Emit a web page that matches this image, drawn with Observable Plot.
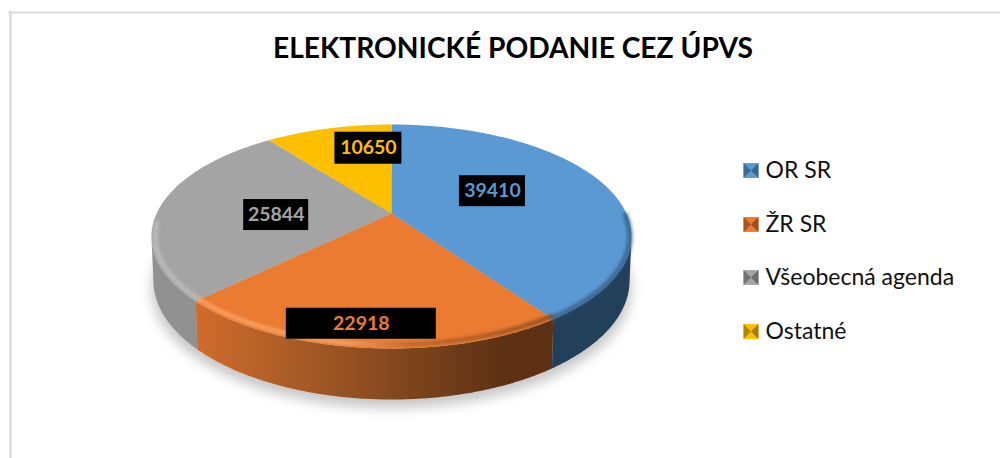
<!DOCTYPE html>
<html><head><meta charset="utf-8">
<script src="https://cdn.jsdelivr.net/npm/d3@7"></script>
<script src="https://cdn.jsdelivr.net/npm/@observablehq/plot@0.6"></script>
<style>html,body{margin:0;padding:0;background:#fff}svg{display:block}</style>
</head><body><div id="chart"></div>
<script>
const title = "ELEKTRONICKÉ PODANIE CEZ ÚPVS";
const categories = ["OR SR", "ŽR SR", "Všeobecná agenda", "Ostatné"];
const values = [39410, 22918, 25844, 10650];
const colors = ["#5b99d4", "#eb7b31", "#a4a4a4", "#fdbf00"];

// ---- layout (not data) ----
const W = 1000, H = 458, FONT = "Lato, Carlito, sans-serif";
const skew = -0.205;                // perspective shift of the apex
const warp = 0.027;                 // foreshortening of the pie angle
const bottom = {rx: 0.992, cy: 0.393, ry: 1.0625}; // lower rim ellipse in unit space
const pxX = 240, pxY = 112;         // pixels per unit of the x and y scale
const sideStops = [
  [[0, "#23405b"], [1, "#23405b"]],
  [[0, "#d06c2b"], [0.3, "#a65a26"], [0.6, "#7d441c"], [0.85, "#5e3114"], [1, "#5c3013"]],
  [[0, "#919191"], [1, "#919191"]],
  [[0, "#c09000"], [1, "#c09000"]]
];
const bevelStops = [
  [[0, "#2c4f72"], [1, "#2c4f72"]],
  [[0, "#f9a468"], [0.42, "#f9a468"], [0.6, "#b8642a"], [1, "#8a4a1e"]],
  [[0, "#bcbcbc"], [1, "#bcbcbc"]],
  [[0, "#fdbf00"], [1, "#fdbf00"]]
];
const labelPlace = [ // box size in px, fractional radius in the pie, px nudge
  {r: .45, w: 66, h: 31, dx: 4, dy: -7},
  {r: .8,  w: 150, h: 31, dx: -10.5, dy: 8},
  {r: .62, w: 65, h: 31, dx: 28.5, dy: 6.5},
  {r: .62, w: 67, h: 32, dx: 18, dy: -9}
];
const legendRows = [170, 224, 277, 331];

// ---- geometry derived from the values ----
const slices = d3.pie().sort(null)(values);
function project(angle0, r = 1) {
  const angle = angle0 - warp * Math.sin(2 * angle0);
  const u = r * Math.sin(angle), v = -r * Math.cos(angle);
  const d = 1 + skew * v;
  return {x: u * Math.sqrt(1 - skew * skew) / d, y: (v + skew) / d};
}
const arcPts = (s, r = 1) => {
  const n = Math.max(2, Math.ceil((s.endAngle - s.startAngle) * 90));
  return d3.range(n + 1).map(i => project(s.startAngle + (s.endAngle - s.startAngle) * i / n, r));
};
const toBottom = p => ({x: p.x * bottom.rx, y: bottom.cy + p.y * bottom.ry});
const apex = project(0, 0);
const wedge = s => [apex, ...arcPts(s), apex];
const side = s => {
  const a = arcPts(s).filter(p => p.y >= 0);
  return a.length ? [...a, ...a.slice().reverse().map(toBottom), a[0]] : [];
};
const outline = d3.range(0, 361, 2).map(d => project(d * Math.PI / 180));
const shadow = outline.map(p => ({x: p.x * 1.0, y: bottom.cy + 0.075 + p.y * bottom.ry}));

function defs() {
  const NS = "http://www.w3.org/2000/svg";
  const el = document.createElementNS(NS, "defs");
  const add = (id, stops) => {
    const g = document.createElementNS(NS, "linearGradient");
    g.setAttribute("id", id);
    g.setAttribute("gradientUnits", "userSpaceOnUse");
    g.setAttribute("x1", 195); g.setAttribute("x2", 555);
    g.setAttribute("y1", 0); g.setAttribute("y2", 0);
    for (const [o, c] of stops) {
      const st = document.createElementNS(NS, "stop");
      st.setAttribute("offset", o); st.setAttribute("stop-color", c);
      g.appendChild(st);
    }
    el.appendChild(g);
  };
  sideStops.forEach((s, i) => add("side" + i, s));
  bevelStops.forEach((s, i) => add("bevel" + i, s));
  return el;
}

const poly = (pts, opt) => Plot.line(pts, {x: "x", y: "y", curve: "linear", ...opt});
const rimFrom = [-0.2, 0, -0.12, 2];
const rimInset = [[0.993, 0.012], [0.985, 0.035], [0.985, 0.035]];
const inner = (s, i) => arcPts(s).filter(p => p.y >= rimFrom[i]).map(p => ({x: p.x * rimInset[i][0], y: p.y - rimInset[i][1] * Math.max(p.y, 0)}));

const marks = [
  defs,
  Plot.frame({anchor: "top", insetTop: 12, insetLeft: 9, stroke: "#d9d9d9", strokeWidth: 2.2}),
  Plot.frame({anchor: "left", insetTop: 11, insetLeft: 10, stroke: "#d9d9d9", strokeWidth: 2.2}),
  Plot.text([title], {frameAnchor: "top", dy: 37, dx: 12.5, text: d => d, fontFamily: FONT, fontWeight: 700, fontSize: 28.2, fill: "#000", lineAnchor: "top"}),
  poly(shadow, {fill: "#000", fillOpacity: 0.22, stroke: "none", imageFilter: "blur(6px)"})
];
[0, 2, 1].forEach(i => marks.push(poly(side(slices[i]), {fill: `url(#side${i})`, stroke: "none"})));
slices.forEach((s, i) => marks.push(poly(wedge(s), {fill: colors[i], stroke: "none"})));
[0, 2, 1].forEach(i => {
  marks.push(poly(inner(slices[i], i), {stroke: `url(#bevel${i})`, strokeWidth: i === 0 ? 6 : i === 1 ? 4.5 : 5, strokeOpacity: i === 0 ? 0.6 : 0.85, imageFilter: "blur(1.8px)"}));
});
slices.forEach((s, i) => {
  const pl = labelPlace[i];
  const c = project((s.startAngle + s.endAngle) / 2, pl.r);
  const cx = c.x + pl.dx / pxX, cy = c.y + pl.dy / pxY;
  marks.push(Plot.rect([{}], {x1: cx - pl.w / 2 / pxX, x2: cx + pl.w / 2 / pxX, y1: cy - pl.h / 2 / pxY, y2: cy + pl.h / 2 / pxY, fill: "#000"}));
  marks.push(Plot.text([values[i]], {x: () => cx, y: () => cy, text: d => String(d), fill: colors[i], fontFamily: FONT, fontWeight: 700, fontSize: 19.5}));
});
const triangle = k => ({draw(ctx, size) {
  const r = Math.sqrt(size) / 2;
  const pts = [[[-r,-r],[r,-r]], [[r,-r],[r,r]], [[r,r],[-r,r]], [[-r,r],[-r,-r]]][k];
  ctx.moveTo(0, 0); ctx.lineTo(...pts[0]); ctx.lineTo(...pts[1]); ctx.closePath();
}});
const shade = (c, k) => d3.rgb(c).darker(k).formatHex();
categories.forEach((name, i) => {
  const pos = {frameAnchor: "top-left", dx: 750.5, dy: legendRows[i], r: 8.4};
  marks.push(Plot.dot([{}], {...pos, symbol: "square", fill: colors[i], stroke: "none"}));
  [1, 3].forEach(k => marks.push(Plot.dot([{}], {...pos, symbol: triangle(k), fill: shade(colors[i], k === 1 ? 1.2 : 1.0), stroke: "none"})));
  marks.push(Plot.text([name], {frameAnchor: "top-left", dx: 765, dy: legendRows[i], text: d => d, textAnchor: "start", fontFamily: FONT, fontSize: 23, fill: "#111", lineAnchor: "middle"}));
});

const chart = Plot.plot({
  width: W, height: H, margin: 0,
  style: {background: "#fff", overflow: "hidden"},
  x: {domain: [-1, 1], range: [151, 631], axis: null},
  y: {domain: [-1, 1], range: [124, 348], axis: null},
  marks
});
document.getElementById("chart").append(chart);
</script></body></html>
